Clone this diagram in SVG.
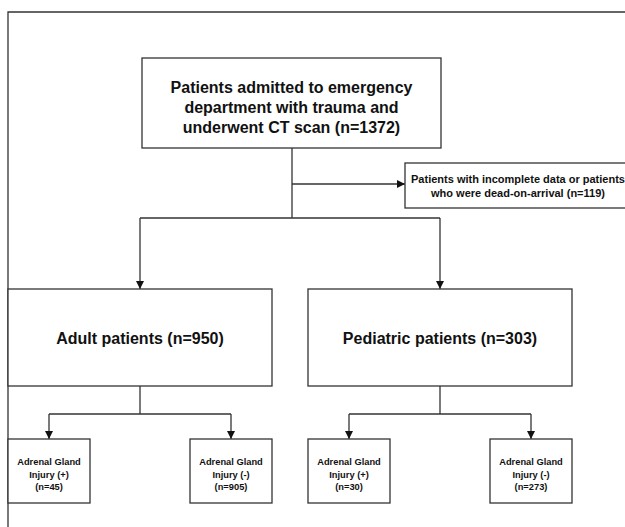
<svg xmlns="http://www.w3.org/2000/svg" width="625" height="527" viewBox="0 0 625 527">
<defs>
<marker id="arr" markerUnits="userSpaceOnUse" markerWidth="8" markerHeight="8" refX="8" refY="4" orient="auto">
<path d="M0,0 L8,4 L0,8 z" fill="#111"/>
</marker>
<style>
.box{fill:#fff;stroke:#333;stroke-width:1.3}
.ln{fill:none;stroke:#333;stroke-width:1.3}
.t{font-family:"Liberation Sans",Arial,sans-serif;font-weight:bold;fill:#111;text-anchor:middle}
.big{font-size:16px}
.mid{font-size:11px}
.sm{font-size:9.3px}
</style>
</defs>
<rect x="0" y="0" width="625" height="527" fill="#fff"/>
<g id="frame">
<path class="ln" d="M8,527 L8,12 L625,12"/>
</g>
<g id="connectors">
<path class="ln" d="M292,148 L292,218"/>
<path class="ln" d="M292,184 L405,184" marker-end="url(#arr)"/>
<path class="ln" d="M140,218 L440,218"/>
<path class="ln" d="M140,218 L140,289" marker-end="url(#arr)"/>
<path class="ln" d="M440,218 L440,289" marker-end="url(#arr)"/>
<path class="ln" d="M140,386 L140,414"/>
<path class="ln" d="M49,414 L231,414"/>
<path class="ln" d="M49,414 L49,439" marker-end="url(#arr)"/>
<path class="ln" d="M231,414 L231,439" marker-end="url(#arr)"/>
<path class="ln" d="M440,386 L440,414"/>
<path class="ln" d="M349,414 L531,414"/>
<path class="ln" d="M349,414 L349,439" marker-end="url(#arr)"/>
<path class="ln" d="M531,414 L531,439" marker-end="url(#arr)"/>
</g>
<g id="n-admitted">
<rect class="box" x="142" y="58" width="299" height="90"/>
<text class="t big" x="291.5" y="93">Patients admitted to emergency</text>
<text class="t big" x="291.5" y="113">department with trauma and</text>
<text class="t big" x="291.5" y="132.5">underwent CT scan (n=1372)</text>
</g>
<g id="n-excluded">
<rect class="box" x="405" y="163" width="230" height="45"/>
<text class="t mid" x="518" y="183">Patients with incomplete data or patients</text>
<text class="t mid" x="518" y="197">who were dead-on-arrival (n=119)</text>
</g>
<g id="n-adult">
<rect class="box" x="8" y="289" width="264" height="97"/>
<text class="t big" x="140" y="343.5">Adult patients (n=950)</text>
</g>
<g id="n-pediatric">
<rect class="box" x="308" y="289" width="264" height="97"/>
<text class="t big" x="440" y="343.5">Pediatric patients (n=303)</text>
</g>
<g id="n-adult-pos">
<rect class="box" x="8" y="439" width="82" height="64"/>
<text class="t sm" x="49" y="464.5">Adrenal Gland</text>
<text class="t sm" x="49" y="477.5">Injury (+)</text>
<text class="t sm" x="49" y="490">(n=45)</text>
</g>
<g id="n-adult-neg">
<rect class="box" x="190" y="439" width="82" height="64"/>
<text class="t sm" x="231" y="464.5">Adrenal Gland</text>
<text class="t sm" x="231" y="477.5">Injury (-)</text>
<text class="t sm" x="231" y="490">(n=905)</text>
</g>
<g id="n-ped-pos">
<rect class="box" x="308" y="439" width="82" height="64"/>
<text class="t sm" x="349" y="464.5">Adrenal Gland</text>
<text class="t sm" x="349" y="477.5">Injury (+)</text>
<text class="t sm" x="349" y="490">(n=30)</text>
</g>
<g id="n-ped-neg">
<rect class="box" x="490" y="439" width="82" height="64"/>
<text class="t sm" x="531" y="464.5">Adrenal Gland</text>
<text class="t sm" x="531" y="477.5">Injury (-)</text>
<text class="t sm" x="531" y="490">(n=273)</text>
</g>
</svg>
